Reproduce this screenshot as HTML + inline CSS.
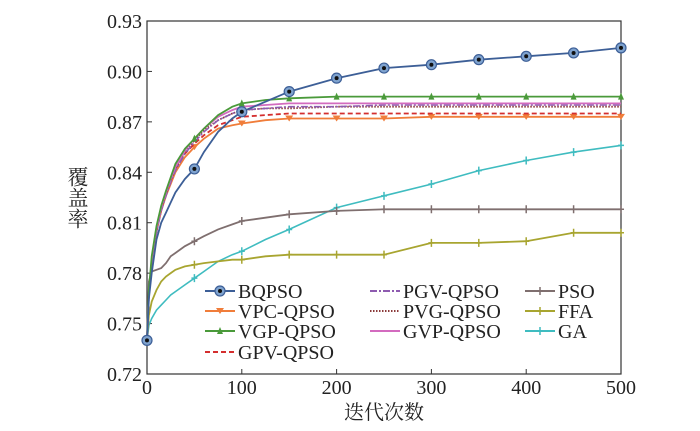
<!DOCTYPE html>
<html><head><meta charset="utf-8"><style>
body{margin:0;background:#fff}
svg{display:block}
text{font-family:"Liberation Serif","Noto Serif CJK SC",serif;fill:#222}
</style></head><body>
<svg id="c" width="700" height="431"></svg>
<script>
const xs=[0,2,5,10,15,20,25,30,40,50,60,75,90,100,125,150,200,250,300,350,400,450,500];
const BQPSO=[0.74,0.765,0.78,0.80,0.81,0.816,0.822,0.828,0.836,0.842,0.852,0.864,0.872,0.876,0.882,0.888,0.896,0.902,0.904,0.907,0.909,0.911,0.914];
const VPC=[0.74,0.768,0.786,0.805,0.817,0.826,0.833,0.84,0.849,0.855,0.86,0.866,0.868,0.869,0.871,0.872,0.872,0.872,0.873,0.873,0.873,0.873,0.873];
const VGP=[0.74,0.77,0.79,0.808,0.82,0.829,0.837,0.845,0.854,0.86,0.866,0.874,0.879,0.881,0.883,0.884,0.885,0.885,0.885,0.885,0.885,0.885,0.885];
const GPV=[0.74,0.768,0.787,0.806,0.818,0.827,0.835,0.842,0.851,0.857,0.862,0.868,0.871,0.873,0.874,0.875,0.875,0.875,0.875,0.875,0.875,0.875,0.875];
const PGV=[0.74,0.766,0.785,0.804,0.817,0.826,0.834,0.841,0.851,0.858,0.864,0.871,0.875,0.877,0.878,0.879,0.879,0.88,0.88,0.88,0.88,0.88,0.88];
const PVG=[0.74,0.767,0.786,0.805,0.818,0.827,0.835,0.842,0.852,0.859,0.865,0.871,0.875,0.877,0.878,0.878,0.879,0.879,0.879,0.879,0.879,0.879,0.879];
const GVP=[0.74,0.769,0.788,0.807,0.819,0.828,0.836,0.843,0.853,0.86,0.866,0.873,0.877,0.879,0.88,0.881,0.881,0.881,0.881,0.881,0.881,0.881,0.881];
const PSO=[0.74,0.775,0.781,0.782,0.783,0.786,0.79,0.792,0.796,0.799,0.802,0.806,0.809,0.811,0.813,0.815,0.817,0.818,0.818,0.818,0.818,0.818,0.818];
const FFA=[0.74,0.755,0.763,0.77,0.775,0.778,0.78,0.782,0.784,0.785,0.786,0.787,0.788,0.788,0.79,0.791,0.791,0.791,0.798,0.798,0.799,0.804,0.804];
const GA=[0.74,0.749,0.753,0.758,0.761,0.764,0.767,0.769,0.773,0.777,0.781,0.787,0.791,0.793,0.8,0.806,0.819,0.826,0.833,0.841,0.847,0.852,0.856];
const xTicks=[0,100,200,300,400,500];
const yTicks=[0.72,0.75,0.78,0.81,0.84,0.87,0.90,0.93];
const L=147,R=621,T=21,B=374;
const X=v=>L+(v/500)*(R-L);
const Y=v=>B-(v-0.72)/(0.21)*(B-T);
const svg=document.getElementById('c');
const NS='http://www.w3.org/2000/svg';
function mk(tag,attrs,parent){const e=document.createElementNS(NS,tag);for(const k in attrs)e.setAttribute(k,attrs[k]);(parent||svg).appendChild(e);return e;}
const series=[
 {n:'BQPSO',d:BQPSO,c:'#3d5f97',m:'circle',dash:'',w:1.8},
 {n:'VPC-QPSO',d:VPC,c:'#f07d3a',m:'tri',dash:'',w:1.8},
 {n:'VGP-QPSO',d:VGP,c:'#4a9a3a',m:'star',dash:'',w:1.8},
 {n:'GPV-QPSO',d:GPV,c:'#d42e2e',m:'',dash:'5,3',w:1.8},
 {n:'PGV-QPSO',d:PGV,c:'#8e5bb0',m:'',dash:'7,2,2,2',w:1.6},
 {n:'PVG-QPSO',d:PVG,c:'#8b3a3a',m:'',dash:'1.5,1.5',w:1.8},
 {n:'GVP-QPSO',d:GVP,c:'#d36bbf',m:'',dash:'',w:1.8},
 {n:'PSO',d:PSO,c:'#7f6f6f',m:'plus',dash:'',w:1.8},
 {n:'FFA',d:FFA,c:'#a8a530',m:'plus',dash:'',w:1.8},
 {n:'GA',d:GA,c:'#3fbcc0',m:'plus',dash:'',w:1.6}];
function marker(s,x,y,g){
 if(s.m==='circle'){mk('circle',{cx:x,cy:y,r:5,fill:'#7fa3cf',stroke:s.c,'stroke-width':1.2},g);mk('circle',{cx:x,cy:y,r:2,fill:'#111'},g);}
 else if(s.m==='tri'){mk('path',{d:`M${x-4},${y-3}L${x+4},${y-3}L${x},${y+3}Z`,fill:s.c},g);}
 else if(s.m==='star'){mk('path',{d:`M${x},${y-4}L${x+3},${y+3}L${x-3},${y+3}Z`,fill:s.c},g);}
 else if(s.m==='plus'){mk('path',{d:`M${x},${y-4}V${y+4}M${x-3},${y}H${x+3}`,stroke:s.c,'stroke-width':1.5},g);}
}
const frame=mk('rect',{x:L,y:T,width:R-L,height:B-T,fill:'none',stroke:'#333','stroke-width':1.2});

yTicks.forEach(v=>{
 const t=mk('text',{x:L-5,y:Y(v)+7,'text-anchor':'end','font-size':20});t.textContent=v.toFixed(2);
 
 mk('line',{x1:L,x2:L+5,y1:Y(v),y2:Y(v),stroke:'#333'});
});
xTicks.forEach(v=>{
 const t=mk('text',{x:X(v),y:B+20,'text-anchor':'middle','font-size':20});t.textContent=v;
 
 mk('line',{x1:X(v),x2:X(v),y1:B,y2:B-5,stroke:'#333'});
});
const xt=mk('text',{x:(L+R)/2,y:419,'text-anchor':'middle','font-size':20});xt.textContent='迭代次数';

const yt=mk('text',{x:77,y:(T+B)/2,'text-anchor':'middle','font-size':21,'writing-mode':'tb','glyph-orientation-vertical':0});yt.textContent='覆盖率';

[9,8,7,1,3,5,4,6,2,0].forEach(i=>{
 const s=series[i];
 const g=mk('g',{});
 
 
 const d=xs.map((x,j)=>(j?'L':'M')+X(x).toFixed(1)+','+Y(s.d[j]).toFixed(1)).join('');
 mk('path',{d,fill:'none',stroke:s.c,'stroke-width':s.w,'stroke-dasharray':s.dash},g);
 if(s.m) xs.forEach((x,j)=>{if(x%50===0)marker(s,X(x),Y(s.d[j]),g);});
});
const rows=[291,311,331,352];
const lg=mk('g',{});
series.forEach((s,i)=>{
 let cx,r;
 if(i<4){cx=205;r=i}else if(i<7){cx=370;r=i-4}else{cx=525;r=i-7}
 const y=rows[r];
 const e=mk('g',{},lg);
 
 
 mk('line',{x1:cx,x2:cx+30,y1:y,y2:y,stroke:s.c,'stroke-width':2,'stroke-dasharray':s.dash},e);
 if(s.m)marker(s,cx+15,y,e);
 const t=mk('text',{x:cx+33,y:y+7,'font-size':20},e);t.textContent=s.n;
});
</script>
</body></html>
